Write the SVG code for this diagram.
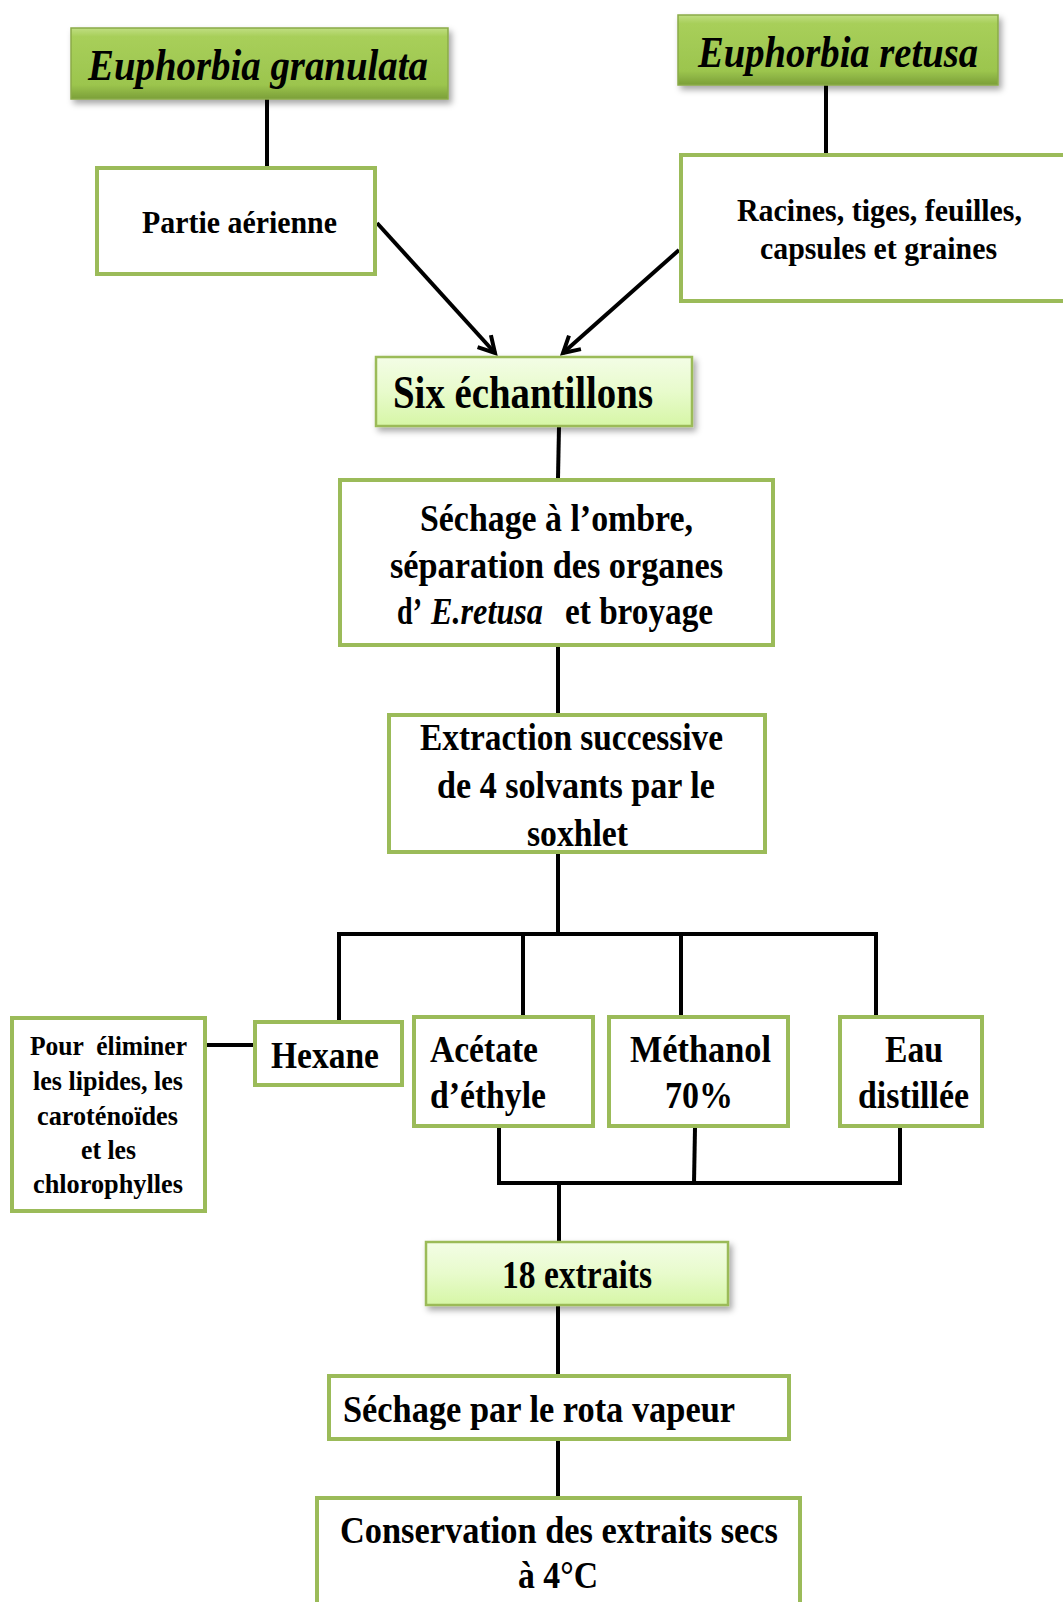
<svg xmlns="http://www.w3.org/2000/svg" width="1063" height="1602" viewBox="0 0 1063 1602">
<style>
text{font-family:"Liberation Serif","Times New Roman",serif;font-weight:bold;fill:#000;white-space:pre}
.it{font-style:italic}
.box{fill:#fff;stroke:#9BBB59;stroke-width:4}
.lbox{fill:url(#gLight);stroke:#9BBB59;stroke-width:2.5}
.tbox{fill:url(#gTitle);stroke:#8aab48;stroke-width:1.5}
.c{stroke:#000;stroke-width:4;fill:none}
.f38{font-size:38px}
</style>
<defs>
<linearGradient id="gTitle" x1="0" y1="0" x2="0" y2="1">
<stop offset="0" stop-color="#c0de82"/>
<stop offset="0.12" stop-color="#a8cf5a"/>
<stop offset="0.8" stop-color="#9cc54e"/>
<stop offset="1" stop-color="#7b9f38"/>
</linearGradient>
<linearGradient id="gLight" x1="0" y1="0" x2="0" y2="1">
<stop offset="0" stop-color="#f3fde6"/>
<stop offset="0.5" stop-color="#e8fbcc"/>
<stop offset="1" stop-color="#d6f6a6"/>
</linearGradient>
<filter id="sh" x="-10%" y="-20%" width="125%" height="150%">
<feDropShadow dx="3" dy="4" stdDeviation="3" flood-color="#000" flood-opacity="0.35"/>
</filter>
<marker id="ah" markerUnits="userSpaceOnUse" markerWidth="24" markerHeight="24" viewBox="0 0 24 24" refX="19" refY="12" orient="auto">
<path d="M3,3 L19,12 L3,21" fill="none" stroke="#000" stroke-width="4" stroke-linejoin="miter"/>
</marker>
</defs>

<g id="connectors">
<path class="c" d="M267,99 V166"/>
<path class="c" d="M826,85 V153"/>
<path class="c" d="M377,223 L495,353" marker-end="url(#ah)"/>
<path class="c" d="M679,250 L563,353" marker-end="url(#ah)"/>
<path class="c" d="M559,427 L558,478"/>
<path class="c" d="M558,647 V713"/>
<path class="c" d="M558,854 V934"/>
<path class="c" d="M337,934 H878"/>
<path class="c" d="M339,932 V1020"/>
<path class="c" d="M523,934 V1015"/>
<path class="c" d="M681,934 V1015"/>
<path class="c" d="M876,932 V1015"/>
<path class="c" d="M207,1045 H253"/>
<path class="c" d="M499,1128 V1185"/>
<path class="c" d="M695,1128 L694,1183"/>
<path class="c" d="M900,1128 V1185"/>
<path class="c" d="M497,1183 H902"/>
<path class="c" d="M559,1183 V1241"/>
<path class="c" d="M558,1306 V1374"/>
<path class="c" d="M558,1441 V1496"/>
</g>

<g id="n-granulata">
<rect class="tbox" x="71" y="28" width="377" height="71" filter="url(#sh)"/>
<text class="it" x="88" y="80" font-size="44" textLength="340" lengthAdjust="spacingAndGlyphs">Euphorbia granulata</text>
</g>
<g id="n-retusa">
<rect class="tbox" x="678" y="15" width="320" height="70" filter="url(#sh)"/>
<text class="it" x="698" y="67" font-size="44" textLength="280" lengthAdjust="spacingAndGlyphs">Euphorbia retusa</text>
</g>
<g id="n-partie">
<rect class="box" x="97" y="168" width="278" height="106"/>
<text x="142" y="233" font-size="32" textLength="195" lengthAdjust="spacingAndGlyphs">Partie aérienne</text>
</g>
<g id="n-racines">
<rect class="box" x="681" y="155" width="400" height="146"/>
<text x="737" y="221" font-size="31" textLength="285" lengthAdjust="spacingAndGlyphs">Racines, tiges, feuilles,</text>
<text x="760" y="259" font-size="31" textLength="237" lengthAdjust="spacingAndGlyphs">capsules et graines</text>
</g>
<g id="n-six">
<rect class="lbox" x="376" y="357" width="316" height="69" filter="url(#sh)"/>
<text x="393" y="408" font-size="46" textLength="260" lengthAdjust="spacingAndGlyphs">Six échantillons</text>
</g>
<g id="n-sechage">
<rect class="box" x="340" y="480" width="433" height="165"/>
<text class="f38" x="420" y="531" textLength="273" lengthAdjust="spacingAndGlyphs">Séchage à l’ombre,</text>
<text class="f38" x="390" y="578" textLength="333" lengthAdjust="spacingAndGlyphs">séparation des organes</text>
<text class="f38" x="397" y="624" textLength="25" lengthAdjust="spacingAndGlyphs">d’</text>
<text class="f38 it" x="431" y="624" textLength="112" lengthAdjust="spacingAndGlyphs">E.retusa</text>
<text class="f38" x="565" y="624" textLength="148" lengthAdjust="spacingAndGlyphs">et broyage</text>
</g>
<g id="n-extraction">
<rect class="box" x="389" y="715" width="376" height="137"/>
<text class="f38" x="420" y="750" textLength="303" lengthAdjust="spacingAndGlyphs">Extraction successive</text>
<text class="f38" x="437" y="798" textLength="278" lengthAdjust="spacingAndGlyphs">de 4 solvants par le</text>
<text class="f38" x="527" y="846" textLength="101" lengthAdjust="spacingAndGlyphs">soxhlet</text>
</g>
<g id="n-pour">
<rect class="box" x="12" y="1018" width="193" height="193"/>
<text x="30" y="1055" font-size="27" textLength="157" lengthAdjust="spacingAndGlyphs">Pour  éliminer</text>
<text x="33" y="1090" font-size="27" textLength="150" lengthAdjust="spacingAndGlyphs">les lipides, les</text>
<text x="37" y="1125" font-size="27" textLength="141" lengthAdjust="spacingAndGlyphs">caroténoïdes</text>
<text x="81" y="1159" font-size="27" textLength="55" lengthAdjust="spacingAndGlyphs">et les</text>
<text x="33" y="1193" font-size="27" textLength="150" lengthAdjust="spacingAndGlyphs">chlorophylles</text>
</g>
<g id="n-hexane">
<rect class="box" x="255" y="1022" width="147" height="63"/>
<text class="f38" x="271" y="1068" textLength="108" lengthAdjust="spacingAndGlyphs">Hexane</text>
</g>
<g id="n-acetate">
<rect class="box" x="414" y="1017" width="179" height="109"/>
<text class="f38" x="430" y="1062" textLength="108" lengthAdjust="spacingAndGlyphs">Acétate</text>
<text class="f38" x="430" y="1108" textLength="116" lengthAdjust="spacingAndGlyphs">d’éthyle</text>
</g>
<g id="n-methanol">
<rect class="box" x="609" y="1017" width="179" height="109"/>
<text class="f38" x="630" y="1062" textLength="141" lengthAdjust="spacingAndGlyphs">Méthanol</text>
<text class="f38" x="665" y="1108" textLength="68" lengthAdjust="spacingAndGlyphs">70%</text>
</g>
<g id="n-eau">
<rect class="box" x="840" y="1017" width="142" height="109"/>
<text class="f38" x="885" y="1062" textLength="58" lengthAdjust="spacingAndGlyphs">Eau</text>
<text class="f38" x="858" y="1108" textLength="111" lengthAdjust="spacingAndGlyphs">distillée</text>
</g>
<g id="n-18">
<rect class="lbox" x="426" y="1242" width="302" height="63" filter="url(#sh)"/>
<text x="502" y="1288" font-size="40" textLength="150" lengthAdjust="spacingAndGlyphs">18 extraits</text>
</g>
<g id="n-rota">
<rect class="box" x="329" y="1376" width="460" height="63"/>
<text class="f38" x="343" y="1422" textLength="392" lengthAdjust="spacingAndGlyphs">Séchage par le rota vapeur</text>
</g>
<g id="n-conservation">
<rect class="box" x="317" y="1498" width="483" height="130"/>
<text class="f38" x="340" y="1543" textLength="438" lengthAdjust="spacingAndGlyphs">Conservation des extraits secs</text>
<text class="f38" x="518" y="1588" textLength="80" lengthAdjust="spacingAndGlyphs">à 4°C</text>
</g>
</svg>
